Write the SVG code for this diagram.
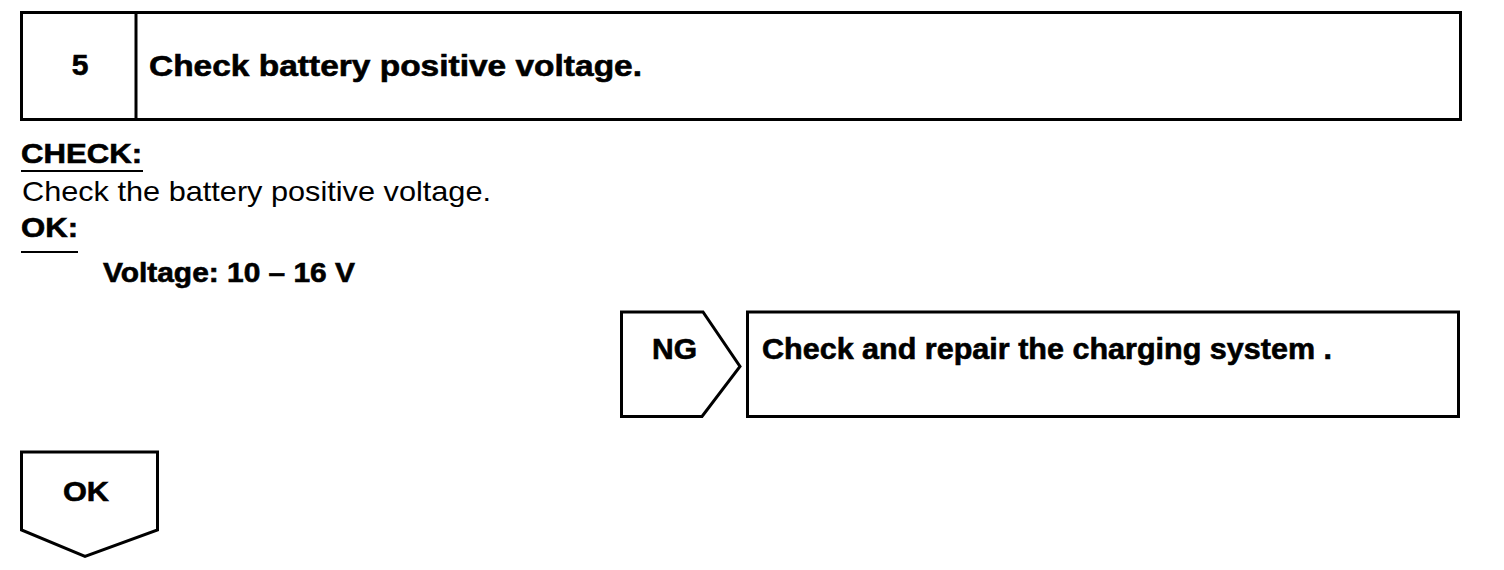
<svg xmlns="http://www.w3.org/2000/svg" width="1504" height="570" viewBox="0 0 1504 570">
<style>
.b{fill:none;stroke:#000;stroke-width:3}
.u{stroke:#000;stroke-width:2}
.t{font-family:"Liberation Sans",Arial,sans-serif;fill:#000}
.bd{font-weight:bold;stroke:#000;stroke-width:0.6}
</style>
<rect width="1504" height="570" fill="#fff"/>
<g id="step5">
<rect class="b" x="21.5" y="12.5" width="1439" height="107"/>
<line class="b" x1="136" y1="12.5" x2="136" y2="119.5"/>
<text class="t bd" x="80" y="75" font-size="30" text-anchor="middle">5</text>
<text class="t bd" x="149" y="76" font-size="30" textLength="493" lengthAdjust="spacingAndGlyphs">Check battery positive voltage.</text>
</g>
<g id="check">
<text class="t bd" x="21" y="163" font-size="27" textLength="121" lengthAdjust="spacingAndGlyphs">CHECK:</text>
<line class="u" x1="21" y1="171" x2="143" y2="171"/>
<text class="t" x="22" y="201" font-size="28" textLength="469" lengthAdjust="spacingAndGlyphs">Check the battery positive voltage.</text>
<text class="t bd" x="21" y="237" font-size="27" textLength="57" lengthAdjust="spacingAndGlyphs">OK:</text>
<line class="u" x1="21" y1="252" x2="78" y2="252"/>
<text class="t bd" x="103" y="282" font-size="27" textLength="252" lengthAdjust="spacingAndGlyphs">Voltage: 10 – 16 V</text>
</g>
<g id="ng">
<polygon class="b" points="621.5,312 703,312 740,366.5 702,416.5 621.5,416.5"/>
<text class="t bd" x="652" y="359" font-size="29" textLength="45" lengthAdjust="spacingAndGlyphs">NG</text>
</g>
<g id="repair">
<rect class="b" x="747.5" y="312" width="711" height="104.5"/>
<text class="t bd" x="762" y="359" font-size="29" textLength="570" lengthAdjust="spacingAndGlyphs">Check and repair the charging system .</text>
</g>
<g id="ok">
<polygon class="b" points="21.5,452 157.5,452 157.5,530 85,556.5 21.5,530"/>
<text class="t bd" x="63" y="501" font-size="28" textLength="46" lengthAdjust="spacingAndGlyphs">OK</text>
</g>
<g id="connectors"></g>
</svg>
